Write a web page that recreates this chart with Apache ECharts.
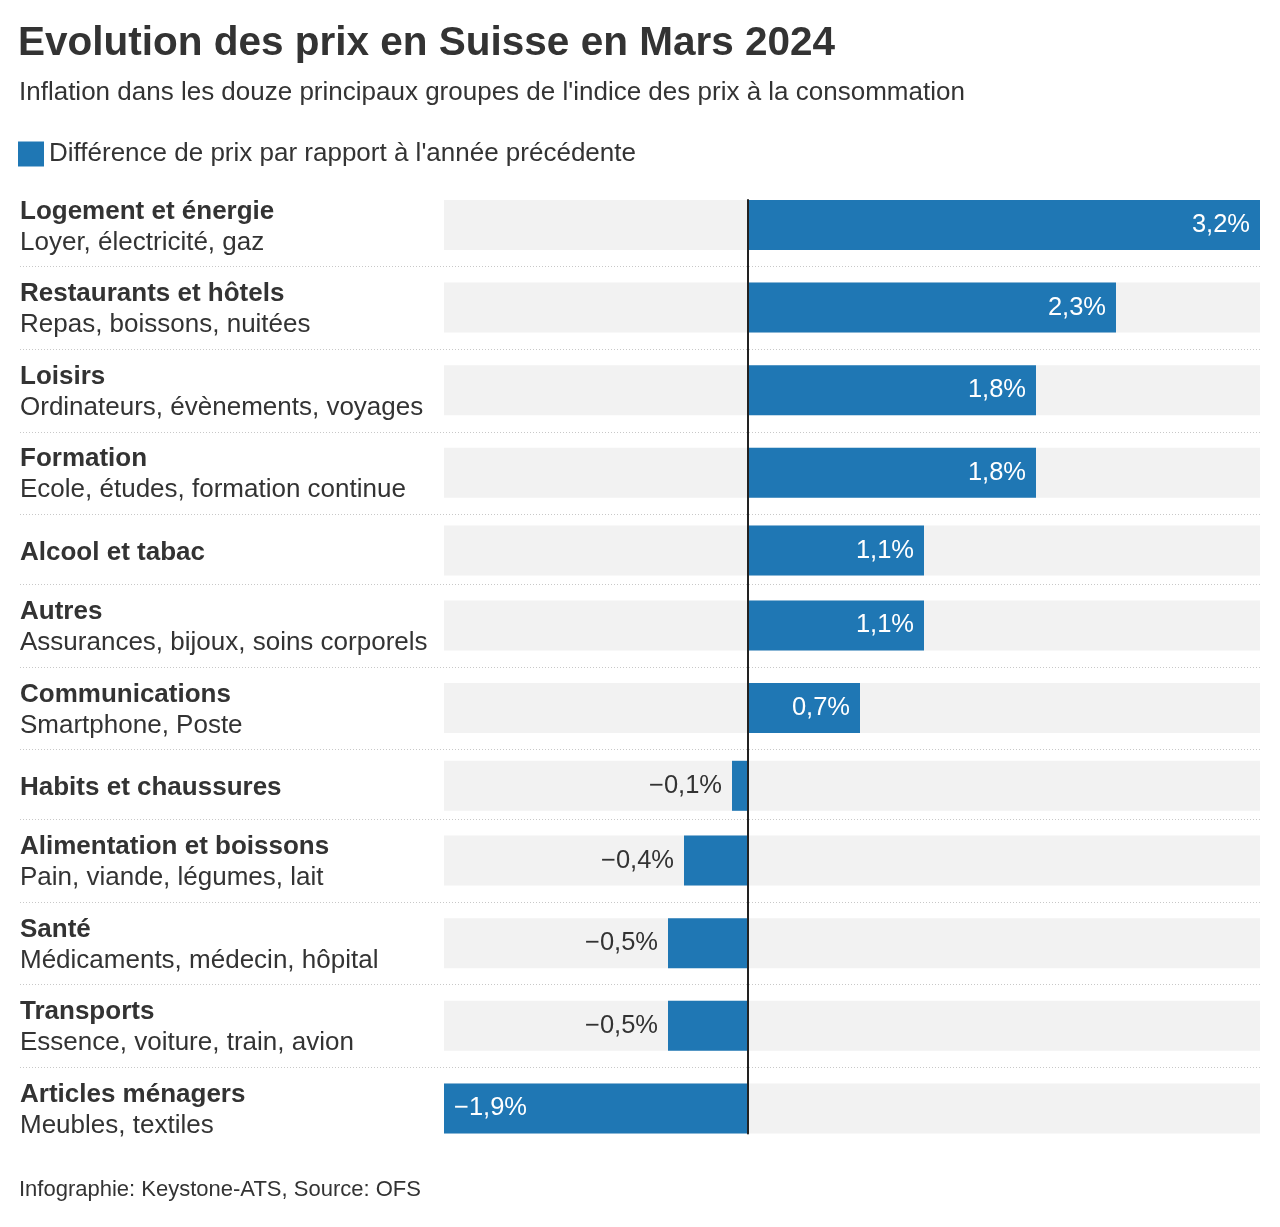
<!DOCTYPE html>
<html>
<head>
<meta charset="utf-8">
<script src="https://cdn.jsdelivr.net/npm/echarts@6/dist/echarts.min.js"></script>
<style>
  html, body { margin: 0; padding: 0; background: #fff; }
  #chart { width: 1280px; height: 1227px; }
</style>
</head>
<body>
<div id="chart"></div>
<script>
// ---- Data ----
const categories = [
  'Logement et énergie',
  'Restaurants et hôtels',
  'Loisirs',
  'Formation',
  'Alcool et tabac',
  'Autres',
  'Communications',
  'Habits et chaussures',
  'Alimentation et boissons',
  'Santé',
  'Transports',
  'Articles ménagers'
];
const subtitles = [
  'Loyer, électricité, gaz',
  'Repas, boissons, nuitées',
  'Ordinateurs, évènements, voyages',
  'Ecole, études, formation continue',
  '',
  'Assurances, bijoux, soins corporels',
  'Smartphone, Poste',
  '',
  'Pain, viande, légumes, lait',
  'Médicaments, médecin, hôpital',
  'Essence, voiture, train, avion',
  'Meubles, textiles'
];
const values = [3.2, 2.3, 1.8, 1.8, 1.1, 1.1, 0.7, -0.1, -0.4, -0.5, -0.5, -1.9];
const seriesName = "Différence de prix par rapport à l'année précédente";
const xMin = -1.9, xMax = 3.2;

// ---- Layout ----
const BAR_H = 50;
const FIRST_TOP = 200;
const padTop = subtitles.map(s => s ? 16.3 : 11.5);
const padBottom = subtitles.map(s => s ? 16.3 : 8.5);
const rowTops = [];
const sepYs = [];
let t = FIRST_TOP;
for (let i = 0; i < categories.length; i++) {
  if (i > 0) t += padTop[i];
  rowTops.push(t);
  t += BAR_H;
  if (i < categories.length - 1) {
    sepYs.push(t + padBottom[i]);
    t += padBottom[i];
  }
}
const lastBottom = rowTops[rowTops.length - 1] + BAR_H;

const BLUE = '#1f77b4';
const TEXT = '#333333';
const FONT = '"Liberation Sans", Arial, Helvetica, sans-serif';

function fmt(v) {
  const s = Math.abs(v).toFixed(1).replace('.', ',') + '%';
  return v < 0 ? '\u2212' + s : s;
}

const grids = [], xAxes = [], yAxes = [], series = [];
categories.forEach((cat, i) => {
  grids.push({ left: 444, right: 20, top: rowTops[i], height: BAR_H });
  xAxes.push({ type: 'value', gridIndex: i, min: xMin, max: xMax, show: false });
  yAxes.push({
    type: 'category', gridIndex: i, data: [cat],
    axisLine: { show: false }, axisTick: { show: false },
    axisLabel: {
      align: 'left', margin: 424,
      padding: [4, 0, 0, 0],
      formatter: (val) => subtitles[i] ? '{b|' + val + '}\n{s|' + subtitles[i] + '}' : '{b|' + val + '}',
      rich: {
        b: { fontFamily: FONT, fontWeight: 'bold', fontSize: 26, lineHeight: 31, color: TEXT },
        s: { fontFamily: FONT, fontSize: 26, lineHeight: 31, color: TEXT }
      }
    }
  });
  const v = values[i];
  const inside = Math.abs(v) >= 0.7;
  series.push({
    name: seriesName,
    type: 'bar',
    xAxisIndex: i, yAxisIndex: i,
    barWidth: BAR_H,
    showBackground: true,
    backgroundStyle: { color: '#f2f2f2' },
    itemStyle: { color: BLUE },
    silent: true,
    data: [{
      value: v,
      label: {
        show: true,
        position: inside ? (v >= 0 ? 'insideRight' : 'insideLeft') : (v >= 0 ? 'right' : 'left'),
        distance: 10,
        color: inside ? '#ffffff' : TEXT,
        fontFamily: FONT,
        fontSize: 25.5,
        formatter: () => fmt(v)
      }
    }]
  });
});

// zero line grid
const zi = categories.length;
grids.push({ left: 444, right: 20, top: FIRST_TOP, height: lastBottom - FIRST_TOP });
xAxes.push({ type: 'value', gridIndex: zi, min: xMin, max: xMax, show: false });
yAxes.push({
  type: 'value', gridIndex: zi, min: 0, max: 1, z: 10,
  axisLine: { show: true, onZero: true, lineStyle: { color: '#222', width: 2 } },
  axisTick: { show: false }, axisLabel: { show: false }, splitLine: { show: false }
});

const graphics = sepYs.map(y => ({
  type: 'line',
  shape: { x1: 20, y1: Math.round(y) + 0.5, x2: 1260, y2: Math.round(y) + 0.5 },
  style: { stroke: '#c8c8c8', lineWidth: 1, lineDash: [1, 2] },
  z: 0
}));

const chart = echarts.init(document.getElementById('chart'), null, { renderer: 'canvas' });
chart.setOption({
  backgroundColor: '#ffffff',
  animation: false,
  title: [
    { text: 'Evolution des prix en Suisse en Mars 2024', left: 18, top: 23, padding: 0,
      textStyle: { fontFamily: FONT, fontWeight: 'bold', fontSize: 40.5, color: TEXT } },
    { text: "Inflation dans les douze principaux groupes de l'indice des prix à la consommation", left: 19, top: 80, padding: 0,
      textStyle: { fontFamily: FONT, fontWeight: 'normal', fontSize: 26, color: TEXT } },
    { text: 'Infographie: Keystone-ATS, Source: OFS', left: 19, top: 1179, padding: 0,
      textStyle: { fontFamily: FONT, fontWeight: 'normal', fontSize: 22, color: TEXT } }
  ],
  legend: {
    data: [seriesName],
    left: 18, top: 141, padding: 0,
    icon: 'rect', itemWidth: 26, itemHeight: 25, itemGap: 10,
    textStyle: { fontFamily: FONT, fontSize: 26, color: TEXT, padding: [3, 0, 0, 0] },
    selectedMode: false
  },
  grid: grids,
  xAxis: xAxes,
  yAxis: yAxes,
  series: series,
  graphic: graphics
});
</script>
</body>
</html>
